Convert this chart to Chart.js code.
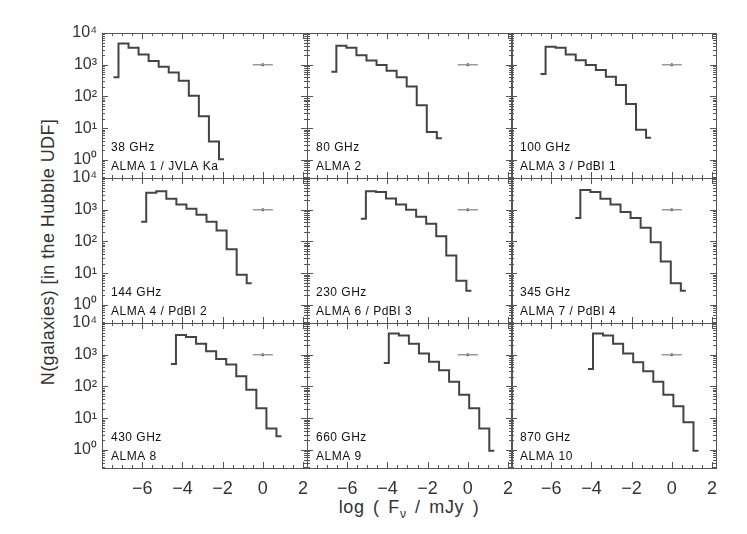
<!DOCTYPE html>
<html>
<head>
<meta charset="utf-8">
<script src="https://cdn.jsdelivr.net/npm/chart.js@4"></script>
<style>
  html, body { margin: 0; padding: 0; background: #fff; }
  #wrap { position: relative; width: 747px; height: 534px; overflow: hidden; font-family: "Liberation Sans", Arial, sans-serif; }
  #wrap canvas { position: absolute; }
  .xtitle { position: absolute; left: 259px; width: 300px; top: 497px; text-align: center; font-size: 18px; letter-spacing: 0.6px; word-spacing: 3px; color: #333; }
  .xtitle sub { font-size: 12px; }
  .ytitle { position: absolute; left: 48px; top: 252px; transform: translate(-50%, -50%) rotate(-90deg); white-space: nowrap; font-size: 18px; letter-spacing: 0.4px; color: #333; }
</style>
</head>
<body>
<div id="wrap">
  <div class="xtitle">log ( F<sub>ν</sub> / mJy )</div>
  <div class="ytitle">N(galaxies) [in the Hubble UDF]</div>
</div>
<script>
// panel labels
const freqLabels = ['38 GHz', '80 GHz', '100 GHz', '144 GHz', '230 GHz', '345 GHz', '430 GHz', '660 GHz', '870 GHz'];
const bandLabels = ['ALMA 1 / JVLA Ka', 'ALMA 2', 'ALMA 3 / PdBI 1', 'ALMA 4 / PdBI 2', 'ALMA 6 / PdBI 3',
  'ALMA 7 / PdBI 4', 'ALMA 8', 'ALMA 9', 'ALMA 10'];

// bin centres (log F / mJy) and counts
const flux38 = [-7.43, -6.93, -6.43, -5.93, -5.43, -4.93, -4.43, -3.93, -3.43, -2.93, -2.43, -1.93];
const counts38 = [400, 4700, 3450, 2100, 1300, 870, 570, 315, 105, 24, 3.8, 1.05];
const flux80 = [-6.79, -6.29, -5.79, -5.29, -4.79, -4.29, -3.79, -3.29, -2.79, -2.29, -1.79, -1.29];
const counts80 = [600, 4000, 3450, 2000, 1350, 980, 650, 400, 205, 53, 7.6, 4.8];
const flux100 = [-6.53, -6.03, -5.53, -5.03, -4.53, -4.03, -3.53, -3.03, -2.53, -2.03, -1.53, -1.03];
const counts100 = [510, 3700, 3450, 2100, 1380, 980, 680, 415, 230, 58, 9, 5];
const flux144 = [-6.05, -5.55, -5.05, -4.55, -4.05, -3.55, -3.05, -2.55, -2.05, -1.55, -1.05, -0.55];
const counts144 = [415, 3400, 3800, 2200, 1450, 1070, 700, 415, 220, 57, 9, 4.8];
const flux230 = [-5.32, -4.82, -4.32, -3.82, -3.32, -2.82, -2.32, -1.82, -1.32, -0.82, -0.32, 0.18];
const counts230 = [520, 3800, 3650, 2250, 1450, 1000, 600, 360, 145, 36, 5.8, 2.8];
const flux345 = [-4.8, -4.3, -3.8, -3.3, -2.8, -2.3, -1.8, -1.3, -0.8, -0.3, 0.2, 0.7];
const counts345 = [550, 4150, 3650, 2200, 1450, 850, 550, 270, 94, 23.5, 4.8, 2.8];
const flux430 = [-4.57, -4.07, -3.57, -3.07, -2.57, -2.07, -1.57, -1.07, -0.57, -0.07, 0.43, 0.93];
const counts430 = [515, 4150, 3650, 2200, 1290, 740, 490, 210, 79, 20.5, 4.7, 2.7];
const flux660 = [-4.18, -3.68, -3.18, -2.68, -2.18, -1.68, -1.18, -0.68, -0.18, 0.32, 0.82, 1.32];
const counts660 = [550, 4650, 4050, 2200, 1090, 600, 325, 140, 55, 20.5, 4.7, 0.95];
const flux870 = [-4.17, -3.67, -3.17, -2.67, -2.17, -1.67, -1.17, -0.67, -0.17, 0.33, 0.83, 1.33];
const counts870 = [355, 4650, 4050, 2200, 1090, 580, 300, 140, 55, 24, 7.4, 0.95];

// typical flux uncertainty bar
const errBarX = [-0.5, 0.5];
const errBarY = [1000, 1000];
const errPointX = [0];
const errPointY = [1000];

// tick labels
const xTickValues = [-6, -4, -2, 0, 2];
const xTickLabels = ['−6', '−4', '−2', '0', '2'];
const yTickValues = [1, 10, 100, 1000, 10000];
const yTickLabels = ['10⁰', '10¹', '10²', '10³', '10⁴'];

const fluxes = [flux38, flux80, flux100, flux144, flux230, flux345, flux430, flux660, flux870];
const counts = [counts38, counts80, counts100, counts144, counts230, counts345, counts430, counts660, counts870];

const X_MIN = -8, X_MAX = 2.2, Y_MIN = 0.27, Y_MAX = 10000;
const PANEL_W = 205, PANEL_H = 145;
const PAD_L = 62, PAD_R = 14, PAD_T = 20, PAD_B = 45;
const colLeft = [102, 307, 511];
const rowTop = [33, 178, 323];

const toPts = (xs, ys) => xs.map((x, i) => ({ x: x, y: ys[i] }));

// frame, inward ticks and the two text labels of a panel
const framePlugin = {
  id: 'frame',
  afterDraw(chart, args, opts) {
    const { ctx, chartArea: a, scales } = chart;
    const xs = scales.x, ys = scales.y;
    ctx.save();
    ctx.strokeStyle = '#555';
    ctx.lineWidth = 1;
    ctx.beginPath();
    for (let k = 0; k * 0.5 + X_MIN <= X_MAX + 1e-9; k++) {
      const v = X_MIN + k * 0.5;
      const px = Math.round(xs.getPixelForValue(v)) + 0.5;
      const len = (k % 4 === 0) ? 6 : 3;
      ctx.moveTo(px, a.bottom); ctx.lineTo(px, a.bottom - len);
      ctx.moveTo(px, a.top); ctx.lineTo(px, a.top + len);
    }
    for (let d = -1; d <= 4; d++) {
      for (let m = 1; m <= 9; m++) {
        const v = m * Math.pow(10, d);
        if (v < Y_MIN || v > Y_MAX) continue;
        const py = Math.round(ys.getPixelForValue(v)) + 0.5;
        const len = m === 1 ? 6 : 3;
        ctx.moveTo(a.left, py); ctx.lineTo(a.left + len, py);
        ctx.moveTo(a.right, py); ctx.lineTo(a.right - len, py);
      }
    }
    ctx.stroke();
    ctx.strokeRect(Math.round(a.left) + 0.5, Math.round(a.top) + 0.5,
      Math.round(a.right - a.left), Math.round(a.bottom - a.top));
    ctx.fillStyle = '#111';
    ctx.font = '12px "Liberation Sans", Arial, sans-serif';
    ctx.letterSpacing = '0.5px';
    ctx.textBaseline = 'middle';
    ctx.fillText(opts.freq, a.left + 9, a.top + 115);
    ctx.fillText(opts.band, a.left + 9, a.top + 134);
    ctx.restore();
  }
};

const wrap = document.getElementById('wrap');

for (let p = 0; p < 9; p++) {
  const r = Math.floor(p / 3), c = p % 3;
  const cv = document.createElement('canvas');
  cv.width = PAD_L + PANEL_W + PAD_R;
  cv.height = PAD_T + PANEL_H + PAD_B;
  cv.style.left = (colLeft[c] - PAD_L) + 'px';
  cv.style.top = (rowTop[r] - PAD_T) + 'px';
  wrap.appendChild(cv);

  new Chart(cv.getContext('2d'), {
    type: 'line',
    data: {
      datasets: [
        {
          data: toPts(fluxes[p], counts[p]),
          stepped: 'middle',
          borderColor: '#444',
          borderWidth: 2,
          pointRadius: 0,
          fill: false
        },
        {
          data: toPts(errBarX, errBarY),
          borderColor: '#999',
          borderWidth: 1.5,
          pointRadius: 0
        },
        {
          data: toPts(errPointX, errPointY),
          showLine: false,
          pointRadius: 1.5,
          pointBackgroundColor: '#333',
          pointBorderWidth: 0
        }
      ]
    },
    options: {
      responsive: false,
      animation: false,
      events: [],
      layout: { padding: { left: 0, right: PAD_R, top: PAD_T, bottom: 0 } },
      plugins: {
        legend: { display: false },
        tooltip: { enabled: false },
        frame: { freq: freqLabels[p], band: bandLabels[p] }
      },
      scales: {
        x: {
          type: 'linear',
          min: X_MIN,
          max: X_MAX,
          grid: { display: false, drawTicks: false },
          border: { display: false },
          afterBuildTicks: (s) => { s.ticks = xTickValues.map(v => ({ value: v })); },
          afterFit: (s) => { s.height = PAD_B; },
          ticks: {
            display: r === 2,
            autoSkip: false,
            maxRotation: 0,
            padding: 10,
            color: '#333',
            font: { family: '"Liberation Sans", Arial, sans-serif', size: 18 },
            callback: (v) => xTickLabels[xTickValues.indexOf(v)]
          }
        },
        y: {
          type: 'logarithmic',
          min: Y_MIN,
          max: Y_MAX,
          grid: { display: false, drawTicks: false },
          border: { display: false },
          afterBuildTicks: (s) => { s.ticks = yTickValues.map(v => ({ value: v })); },
          afterFit: (s) => { s.width = PAD_L; },
          ticks: {
            display: c === 0,
            autoSkip: false,
            padding: 5,
            color: '#333',
            font: { family: '"Liberation Sans", Arial, sans-serif', size: 16 },
            callback: (v) => yTickLabels[yTickValues.indexOf(v)]
          }
        }
      }
    },
    plugins: [framePlugin]
  });
}
</script>
</body>
</html>
